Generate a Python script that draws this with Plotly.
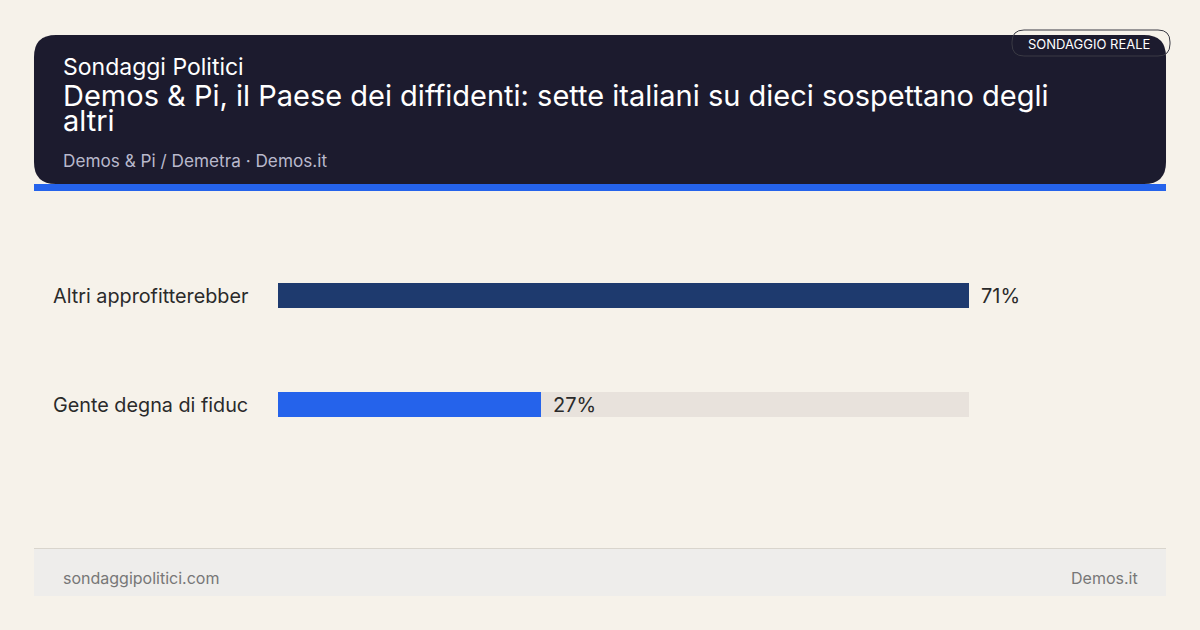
import plotly.graph_objects as go

# ---- data ----
categories = ["Altri approfitterebber", "Gente degna di fiduc"]
values = [71, 27]
value_labels = ["71%", "27%"]
bar_colors = ["#1e3a6e", "#2563eb"]

kicker = "Sondaggi Politici"
title_lines = ["Demos & Pi, il Paese dei diffidenti: sette italiani su dieci sospettano degli", "altri"]
subtitle = "Demos & Pi / Demetra · Demos.it"
badge = "SONDAGGIO REALE"
footer_left = "sondaggipolitici.com"
footer_right = "Demos.it"

W, H = 1200, 630
BG = "#f6f2ea"
FONT = "Inter"
vmax = max(values)


def px(x):
    return x / W


def py(y):
    return 1 - y / H


def rrect(x0, y0, x1, y1, r):
    # rounded rectangle path in paper coords, input in pixels (top-left origin)
    pts = [
        ("M", [(x0 + r, y0)]),
        ("L", [(x1 - r, y0)]),
        ("Q", [(x1, y0), (x1, y0 + r)]),
        ("L", [(x1, y1 - r)]),
        ("Q", [(x1, y1), (x1 - r, y1)]),
        ("L", [(x0 + r, y1)]),
        ("Q", [(x0, y1), (x0, y1 - r)]),
        ("L", [(x0, y0 + r)]),
        ("Q", [(x0, y0), (x0 + r, y0)]),
    ]
    s = ""
    for cmd, ps in pts:
        s += cmd + " " + " ".join(f"{px(a):.5f},{py(b):.5f}" for a, b in ps) + " "
    return s + "Z"


fig = go.Figure()

# track bars (full scale)
fig.add_trace(go.Bar(
    y=categories, x=[vmax] * len(categories), orientation="h",
    marker=dict(color="#e8e2dc", line=dict(width=0)), width=0.23,
    hoverinfo="skip", showlegend=False,
))
# value bars
fig.add_trace(go.Bar(
    y=categories, x=values, orientation="h",
    marker=dict(color=bar_colors, line=dict(width=0)), width=0.23,
    hoverinfo="skip", showlegend=False,
))

shapes = []
# header
shapes.append(dict(type="path", xref="paper", yref="paper", path=rrect(34, 35, 1166, 184, 22),
                   fillcolor="#1c1b2e", line=dict(width=0), layer="below"))
# blue stripe
shapes.append(dict(type="rect", xref="paper", yref="paper", x0=px(34), x1=px(1166), y0=py(191), y1=py(184),
                   fillcolor="#2563eb", line=dict(width=0), layer="below"))
# badge outline
shapes.append(dict(type="path", xref="paper", yref="paper", path=rrect(1012, 30, 1170, 56, 12),
                   fillcolor="rgba(0,0,0,0)", line=dict(width=1, color="#3a3a44"), layer="above"))
# footer
shapes.append(dict(type="rect", xref="paper", yref="paper", x0=px(34), x1=px(1166), y0=py(596), y1=py(549),
                   fillcolor="#eeedeb", line=dict(width=0), layer="below"))
shapes.append(dict(type="line", xref="paper", yref="paper", x0=px(34), x1=px(1166), y0=py(548.5), y1=py(548.5),
                   line=dict(width=1, color="#d9d5cd"), layer="below"))

ann = []
ann.append(dict(text=kicker, x=px(61), y=py(67), xref="paper", yref="paper", xanchor="left", yanchor="middle",
                showarrow=False, font=dict(family=FONT, size=23, color="#ffffff")))
for i, line in enumerate(title_lines):
    ann.append(dict(text=line, x=px(61), y=py(95 + 26 * i), xref="paper", yref="paper", xanchor="left",
                    yanchor="middle", showarrow=False, font=dict(family=FONT, size=29, color="#ffffff")))
ann.append(dict(text=subtitle, x=px(61), y=py(160), xref="paper", yref="paper", xanchor="left", yanchor="middle",
                showarrow=False, font=dict(family=FONT, size=17.2, color="#b9b9cc")))
ann.append(dict(text=badge, x=px(1089), y=py(44), xref="paper", yref="paper", xanchor="center", yanchor="middle",
                showarrow=False, font=dict(family=FONT, size=13, color="#ffffff")))
ann.append(dict(text=footer_left, x=px(61), y=py(578), xref="paper", yref="paper", xanchor="left",
                yanchor="middle", showarrow=False, font=dict(family=FONT, size=16, color="#777777")))
ann.append(dict(text=footer_right, x=px(1140), y=py(578), xref="paper", yref="paper", xanchor="right",
                yanchor="middle", showarrow=False, font=dict(family=FONT, size=16, color="#777777")))
# category labels
for c in categories:
    ann.append(dict(text=c, x=px(51), y=c, xref="paper", yref="y", xanchor="left", yanchor="middle",
                    showarrow=False, font=dict(family=FONT, size=19.8, color="#2a2a2a")))
# value labels
for c, v, t in zip(categories, values, value_labels):
    ann.append(dict(text=t, x=v, y=c, xref="x", yref="y", xanchor="left", yanchor="middle", xshift=10,
                    showarrow=False, font=dict(family=FONT, size=20, color="#2a2a2a")))

fig.update_layout(
    width=W, height=H, paper_bgcolor=BG, plot_bgcolor="rgba(0,0,0,0)",
    margin=dict(l=0, r=0, t=0, b=0), barmode="overlay", bargap=0,
    xaxis=dict(domain=[px(278), px(969)], range=[0, vmax], visible=False, fixedrange=True),
    yaxis=dict(domain=[py(459), py(241)], range=[1.5, -0.5], type="category", visible=False, fixedrange=True),
    shapes=shapes, annotations=ann, font=dict(family=FONT),
    showlegend=False,
)

fig.write_html("out.html", config={"displayModeBar": False},
               post_script="document.body.style.margin='0';document.body.style.background='" + BG + "';")
